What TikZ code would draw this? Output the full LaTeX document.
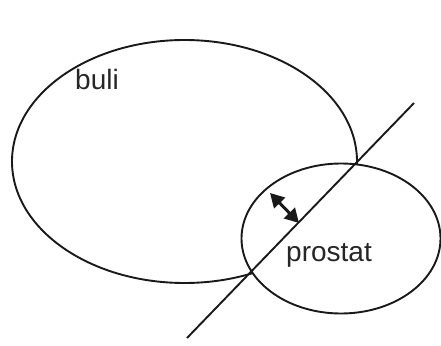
\documentclass[tikz,border=0pt]{standalone}
\usepackage{fontspec}
\setmainfont{Liberation Sans}
\usetikzlibrary{arrows.meta}
\begin{document}
\begin{tikzpicture}[x=1pt,y=-1pt,
  outline/.style={line width=1.9pt,draw=black!90},
  label/.style={font=\fontsize{28}{34}\selectfont,text=black!85,inner sep=0pt,anchor=base west},
  dblarrow/.style={line width=3pt,draw=black!90,{Triangle[length=14pt,width=15pt]}-{Triangle[length=14pt,width=15pt]},shorten <=0pt,shorten >=0pt}]
\useasboundingbox (0,0) rectangle (441,345);
% big ellipse, not drawn inside the small one
\begin{scope}[even odd rule]
  \clip (-10,-10) rectangle (460,360) (341,238.5) ellipse [x radius=100, y radius=75];
  \draw[outline] (184.5,161.5) ellipse [x radius=172.5, y radius=121.5];
\end{scope}
% small ellipse
\draw[outline] (341,238.5) ellipse [x radius=99.5, y radius=75];
% oblique line
\coordinate (top) at (414,103);
\coordinate (bot) at (187,338);
\draw[outline] (bot) -- (top);
% double arrow
\coordinate (a1) at (270,193);
\coordinate (a2) at (299,223);
\draw[dblarrow] (a1) -- (a2);
% labels
\node[label] (buli) at (75,89) {buli};
\node[label] (prostat) at (286,261) {prostat};
\end{tikzpicture}
\end{document}
